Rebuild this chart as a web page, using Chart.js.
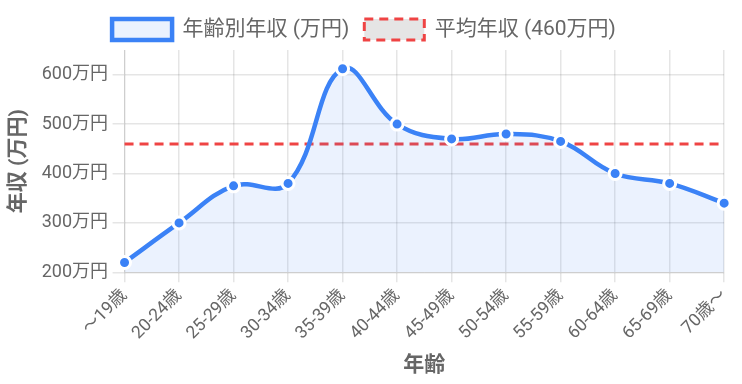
<!DOCTYPE html>
<html>
<head>
<meta charset="utf-8">
<script src="https://cdn.jsdelivr.net/npm/chart.js@4.4.0/dist/chart.umd.min.js"></script>
<style>
  body{margin:0;background:#fff;}
  #wrap{width:742px;height:384px;}
</style>
</head>
<body>
<div id="wrap"><canvas id="myChart"></canvas></div>
<script>
  const ageGroups=['～19歳','20-24歳','25-29歳','30-34歳','35-39歳','40-44歳','45-49歳','50-54歳','55-59歳','60-64歳','65-69歳','70歳～'];
  const income=[220,300,375,380,612,500,470,480,465,400,380,340];
  const average=460;
  const averageLine=ageGroups.map(()=>average);

  Chart.defaults.font.family="Roboto, 'Noto Sans CJK JP', sans-serif";
  Chart.defaults.color='#666';

  const ctx=document.getElementById('myChart').getContext('2d');
  new Chart(ctx,{
    type:'line',
    data:{
      labels:ageGroups,
      datasets:[{
        label:'年齢別年収 (万円)',
        data:income,
        borderColor:'#3b82f6',
        backgroundColor:'rgba(59,130,246,0.1)',
        borderWidth:4.5,
        fill:true,
        tension:0.4,
        pointRadius:6,
        pointBorderWidth:3,
        pointBackgroundColor:'#3b82f6',
        pointBorderColor:'#fff'
      },{
        label:'平均年収 ('+average+'万円)',
        data:averageLine,
        borderColor:'#ef4444',
        backgroundColor:'rgba(0,0,0,0.1)',
        borderWidth:3,
        borderDash:[9,6],
        pointRadius:0,
        fill:false
      }]
    },
    options:{
      responsive:true,
      maintainAspectRatio:false,
      animation:false,
      layout:{padding:{right:14,top:4}},
      plugins:{
        legend:{
          labels:{font:{size:21},boxWidth:60,padding:15}
        }
      },
      scales:{
        x:{
          title:{display:true,text:'年齢',font:{size:21,weight:'bold'},padding:6},
          ticks:{font:{size:17.5},maxRotation:45,minRotation:45,padding:3},
          grid:{lineWidth:1.5,tickLength:10}
        },
        y:{
          min:200,max:650,
          title:{display:true,text:'年収 (万円)',font:{size:21,weight:'bold'},padding:6},
          ticks:{
            stepSize:50,
            font:{size:18},
            padding:4.5,
            callback:v=>v%100===0?v+'万円':null
          },
          grid:{lineWidth:1.5,tickLength:12}
        }
      }
    }
  });
</script>
</body>
</html>
